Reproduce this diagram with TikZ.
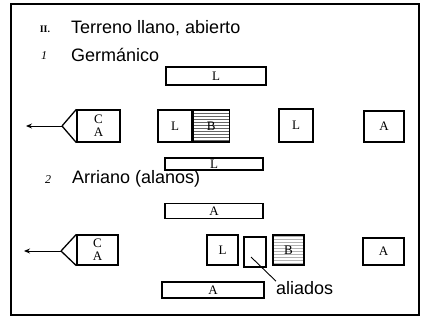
\documentclass[tikz,border=0pt]{standalone}
\usepackage{fontspec}
\setmainfont{Liberation Serif}
\newfontfamily\headfont{Liberation Sans}
\usetikzlibrary{arrows.meta,positioning,calc,patterns}

\begin{document}
\begin{tikzpicture}[x=1pt,y=-1pt,
  unit/.style={draw, line width=1.3pt, inner sep=0pt, align=center,
    font=\fontsize{13}{13}\selectfont},
  heading/.style={anchor=west, inner sep=0pt, font=\headfont\fontsize{18}{18}\selectfont},
  num/.style={inner sep=0pt, font=\itshape\fontsize{12}{12}\selectfont}]
  \useasboundingbox (0,0) rectangle (422,321);
  \draw[line width=1.2pt] (11,4) rectangle (419,315);

  % titles
  \node[inner sep=0pt, font=\bfseries\fontsize{10}{10}\selectfont] (roman) at (45,29) {II.};
  \node[heading] (title) at (71,28) {Terreno llano, abierto};
  \node[num] (n1) at (44,56) {1};
  \node[heading] (germ) at (71,55) {Germánico};

  % 1. Germanico
  \node[unit, minimum width=100pt, minimum height=18pt] (lt1) at (216,76) {L};
  \node[unit, minimum width=43pt, minimum height=32pt] (ca1) at (98.5,126) {C\\A};
  \coordinate (tip1) at (62,126);
  \coordinate (end1) at (26,126);
  \draw[line width=1.3pt, line join=round] (ca1.north west) -- (tip1) -- (ca1.south west);
  \draw[line width=0.9pt, -{Stealth[length=6pt,width=5pt]}] (tip1) -- (end1);
  \node[unit, minimum width=34pt, minimum height=32pt] (l1) at (175,126) {L};
  \node[unit, minimum width=36pt, minimum height=32pt, pattern=horizontal lines, pattern color=black!60,
    right=0pt of l1] (b1) {B};
  \node[unit, minimum width=34pt, minimum height=33pt] (l1b) at (296,125.5) {L};
  \node[unit, minimum width=40pt, minimum height=31pt] (a1) at (384,126.5) {A};
  \node[unit, minimum width=98pt, minimum height=12pt] (lb1) at (214,164) {L};

  % 2. Arriano
  \node[num] (n2) at (48,180) {2};
  \node[heading] (arr) at (72,179) {Arriano (alanos)};
  \node[unit, minimum width=98pt, minimum height=15pt] (at2) at (214,211) {A};
  \node[unit, minimum width=41pt, minimum height=30pt] (ca2) at (97.5,250) {C\\A};
  \coordinate (tip2) at (61,251);
  \coordinate (end2) at (24,251);
  \draw[line width=1.3pt, line join=round] (ca2.north west) -- (tip2) -- (ca2.south west);
  \draw[line width=0.9pt, -{Stealth[length=6pt,width=5pt]}] (tip2) -- (end2);
  \node[unit, minimum width=31pt, minimum height=30pt] (l2) at (222.5,250) {L};
  \node[unit, minimum width=22pt, minimum height=30pt] (al2) at (255,252) {};
  \node[unit, minimum width=31pt, minimum height=30pt, pattern=horizontal lines, pattern color=black!30] (b2) at (288.5,250) {B};
  \node[unit, minimum width=41pt, minimum height=27pt] (a2) at (383.5,251.5) {A};
  \node[unit, minimum width=102pt, minimum height=16pt] (ab2) at (213,290) {A};
  \node[heading] (aliados) at (276,288) {aliados};
  \coordinate (altip) at (251,257);
  \draw[line width=0.9pt] (altip) -- (aliados.north west);
\end{tikzpicture}
\end{document}
